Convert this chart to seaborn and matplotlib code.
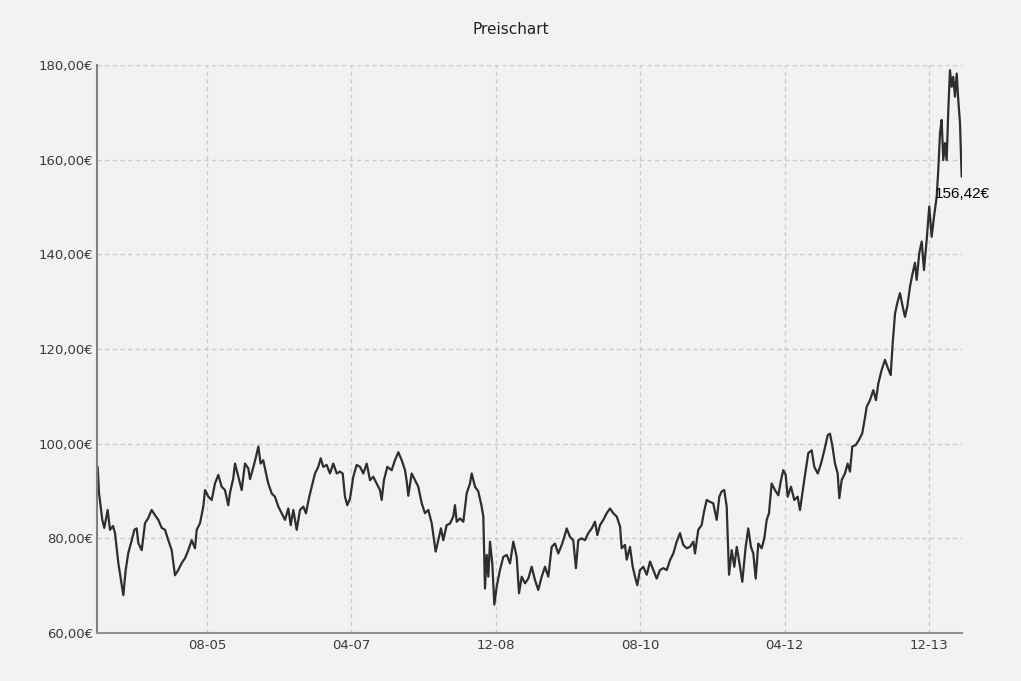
import numpy as np
import pandas as pd
import matplotlib
matplotlib.use("Agg")
import matplotlib.pyplot as plt
import seaborn as sns

# Time as decimal years, price in euro
years = [
    2004.321, 2004.336, 2004.374, 2004.397, 2004.436, 2004.463, 2004.498, 2004.521, 2004.559, 2004.590,
    2004.617, 2004.644, 2004.674, 2004.714, 2004.744, 2004.771, 2004.790, 2004.829, 2004.867, 2004.905,
    2004.944, 2004.982, 2005.021, 2005.060, 2005.098, 2005.136, 2005.175, 2005.213, 2005.251, 2005.291,
    2005.329, 2005.367, 2005.406, 2005.444, 2005.464, 2005.502, 2005.540, 2005.560, 2005.598, 2005.637,
    2005.675, 2005.713, 2005.752, 2005.790, 2005.828, 2005.848, 2005.886, 2005.906, 2005.944, 2005.983,
    2006.021, 2006.059, 2006.079, 2006.117, 2006.148, 2006.175, 2006.202, 2006.232, 2006.264, 2006.290,
    2006.329, 2006.367, 2006.406, 2006.445, 2006.483, 2006.521, 2006.549, 2006.579, 2006.618, 2006.656,
    2006.694, 2006.725, 2006.763, 2006.791, 2006.829, 2006.867, 2006.895, 2006.925, 2006.964, 2007.002,
    2007.040, 2007.080, 2007.118, 2007.149, 2007.175, 2007.202, 2007.233, 2007.271, 2007.310, 2007.349,
    2007.387, 2007.426, 2007.464, 2007.502, 2007.541, 2007.579, 2007.599, 2007.625, 2007.664, 2007.714,
    2007.752, 2007.791, 2007.830, 2007.868, 2007.888, 2007.906, 2007.945, 2007.983, 2008.021, 2008.061,
    2008.099, 2008.137, 2008.176, 2008.222, 2008.252, 2008.283, 2008.310, 2008.349, 2008.387, 2008.425,
    2008.445, 2008.465, 2008.503, 2008.541, 2008.580, 2008.618, 2008.638, 2008.676, 2008.714, 2008.753,
    2008.772, 2008.791, 2008.811, 2008.830, 2008.849, 2008.876, 2008.899, 2008.926, 2008.964, 2009.003,
    2009.042, 2009.080, 2009.118, 2009.157, 2009.184, 2009.215, 2009.253, 2009.291, 2009.330, 2009.368,
    2009.406, 2009.446, 2009.484, 2009.522, 2009.561, 2009.599, 2009.637, 2009.677, 2009.707, 2009.734,
    2009.772, 2009.810, 2009.841, 2009.868, 2009.907, 2009.945, 2009.984, 2010.023, 2010.061, 2010.088,
    2010.119, 2010.157, 2010.196, 2010.234, 2010.272, 2010.312, 2010.350, 2010.369, 2010.407, 2010.427,
    2010.465, 2010.496, 2010.523, 2010.549, 2010.580, 2010.619, 2010.658, 2010.696, 2010.734, 2010.773,
    2010.811, 2010.849, 2010.889, 2010.927, 2010.965, 2011.004, 2011.042, 2011.080, 2011.120, 2011.157,
    2011.196, 2011.215, 2011.253, 2011.292, 2011.319, 2011.350, 2011.388, 2011.426, 2011.466, 2011.496,
    2011.523, 2011.553, 2011.581, 2011.608, 2011.639, 2011.669, 2011.697, 2011.723, 2011.761, 2011.800,
    2011.830, 2011.861, 2011.888, 2011.916, 2011.946, 2011.985, 2012.015, 2012.043, 2012.069, 2012.100,
    2012.138, 2012.177, 2012.208, 2012.234, 2012.262, 2012.285, 2012.323, 2012.361, 2012.400, 2012.427,
    2012.454, 2012.485, 2012.523, 2012.562, 2012.592, 2012.632, 2012.670, 2012.708, 2012.747, 2012.773,
    2012.800, 2012.831, 2012.862, 2012.881, 2012.908, 2012.946, 2012.977, 2013.004, 2013.031, 2013.070,
    2013.108, 2013.146, 2013.177, 2013.197, 2013.235, 2013.273, 2013.304, 2013.331, 2013.370, 2013.408,
    2013.435, 2013.474, 2013.497, 2013.524, 2013.550, 2013.581, 2013.612, 2013.639, 2013.666, 2013.697,
    2013.728, 2013.754, 2013.774, 2013.804, 2013.832, 2013.858, 2013.889, 2013.919, 2013.947, 2013.974,
    2014.005, 2014.023, 2014.043, 2014.062, 2014.081, 2014.100, 2014.120, 2014.139, 2014.158, 2014.178,
    2014.196, 2014.216, 2014.236, 2014.254, 2014.274, 2014.293,
]
prices = [
    95.1, 89.6, 83.9, 82.2, 86.0, 81.8, 82.6, 81.1, 74.8, 71.2,
    68.0, 73.3, 76.9, 79.6, 81.8, 82.1, 79.0, 77.5, 83.2, 84.3,
    86.0, 84.9, 83.9, 82.2, 81.8, 79.6, 77.5, 72.2, 73.3, 74.8,
    75.8, 77.5, 79.6, 77.9, 81.8, 83.2, 86.7, 90.2, 88.8, 88.1,
    91.6, 93.4, 90.9, 90.2, 87.0, 89.6, 92.7, 95.8, 93.0, 90.2,
    95.8, 94.8, 92.5, 95.0, 97.2, 99.4, 95.8, 96.5, 93.7, 91.6,
    89.5, 88.8, 86.7, 85.3, 83.9, 86.3, 82.8, 86.0, 81.8, 86.0,
    86.7, 85.3, 88.8, 90.9, 93.7, 95.1, 96.9, 95.1, 95.5, 93.7,
    95.8, 93.7, 94.1, 93.7, 88.8, 87.0, 88.4, 93.0, 95.5, 95.1,
    93.7, 95.8, 92.3, 93.0, 91.6, 90.2, 88.1, 92.3, 95.1, 94.4,
    96.5, 98.2, 96.5, 94.4, 92.0, 89.0, 93.7, 92.3, 90.9, 87.4,
    85.3, 86.0, 83.2, 77.2, 79.6, 82.1, 79.6, 82.8, 83.1, 84.6,
    87.0, 83.5, 84.2, 83.5, 89.5, 91.6, 93.7, 90.9, 89.9, 86.7,
    84.6, 69.4, 76.5, 71.9, 79.3, 74.6, 66.0, 69.8, 73.3, 76.1,
    76.5, 74.7, 79.3, 76.1, 68.4, 71.9, 70.5, 71.5, 74.0, 71.2,
    69.1, 71.9, 74.0, 71.9, 78.2, 78.9, 76.8, 78.6, 80.3, 82.1,
    80.3, 79.6, 73.7, 79.6, 80.0, 79.6, 81.1, 82.1, 83.5, 80.7,
    82.8, 83.9, 85.3, 86.3, 85.3, 84.6, 82.5, 77.9, 78.6, 75.5,
    78.2, 74.0, 71.9, 70.1, 73.3, 74.0, 72.3, 75.1, 73.3, 71.5,
    73.3, 73.7, 73.3, 75.4, 76.8, 79.3, 81.1, 78.6, 77.9, 78.2,
    79.3, 76.8, 81.8, 82.8, 85.6, 88.1, 87.7, 87.4, 83.9, 88.8,
    89.9, 90.2, 86.7, 72.3, 77.5, 74.0, 78.2, 75.4, 70.8, 78.2,
    82.1, 78.2, 76.8, 71.5, 78.9, 77.9, 80.0, 83.9, 85.3, 91.6,
    90.2, 89.1, 92.3, 94.4, 93.4, 88.8, 90.9, 88.1, 88.8, 86.0,
    89.5, 93.4, 98.0, 98.6, 95.1, 93.7, 95.8, 98.6, 101.8, 102.1,
    99.6, 95.8, 93.7, 88.5, 92.3, 93.7, 95.8, 94.1, 99.4, 99.7,
    100.8, 102.2, 105.5, 107.8, 109.2, 111.3, 109.2, 112.7, 115.6, 117.7,
    116.3, 114.5, 121.2, 127.5, 129.7, 131.8, 129.0, 126.8, 129.0, 133.2,
    136.1, 138.2, 134.6, 140.3, 142.7, 136.7, 143.0, 150.1, 143.7, 148.0,
    152.2, 157.8, 165.6, 168.4, 159.9, 163.5, 159.9, 170.5, 178.9, 175.4,
    177.5, 173.3, 178.2, 172.6, 167.7, 156.42,
]

# axis ticks
x_ticks = [2005 + 7 / 12, 2007 + 3 / 12, 2008 + 11 / 12, 2010 + 7 / 12, 2012 + 3 / 12, 2013 + 11 / 12]
x_labels = ["08-05", "04-07", "12-08", "08-10", "04-12", "12-13"]
y_ticks = [60, 80, 100, 120, 140, 160, 180]
y_labels = ["60,00€", "80,00€", "100,00€", "120,00€", "140,00€", "160,00€", "180,00€"]

df = pd.DataFrame({"year": years, "price": prices})

bg = "#f2f2f2"
sns.set_style("white", {"axes.facecolor": bg, "figure.facecolor": bg})
plt.rcParams["font.family"] = ["DejaVu Sans"]

fig = plt.figure(figsize=(10.21, 6.81), dpi=100)
ax = fig.add_axes([97 / 1021, 1 - 633 / 681, (962 - 97) / 1021, (633 - 65) / 681])

sns.lineplot(data=df, x="year", y="price", ax=ax, color="#2e2e2e", linewidth=1.6)

ax.set_xlim(2004.313, 2014.297)
ax.set_ylim(60, 180)
ax.set_xticks(x_ticks)
ax.set_xticklabels(x_labels)
ax.set_yticks(y_ticks)
ax.set_yticklabels(y_labels)
ax.set_xlabel("")
ax.set_ylabel("")
ax.tick_params(axis="both", length=0, labelsize=9.5, labelcolor="#3a3a3a")
ax.tick_params(axis="x", pad=4)
ax.tick_params(axis="y", pad=3)

ax.grid(True, color="#cbcbcb", linestyle=(0, (3, 2.5)), linewidth=1)
ax.set_axisbelow(True)

for s in ["top", "right"]:
    ax.spines[s].set_visible(False)
ax.spines["left"].set_color("#808080")
ax.spines["left"].set_linewidth(1.5)
ax.spines["bottom"].set_color("#909090")
ax.spines["bottom"].set_linewidth(1.5)

fig.text(0.5, 1 - 30 / 681, "Preischart", ha="center", va="center", fontsize=11, color="#222222")

# label of the last price
ax.annotate("156,42€", xy=(years[-1], prices[-1]), xytext=(-27, -17),
            textcoords="offset pixels", ha="left", va="center",
            fontsize=11, color="black", family="Liberation Sans")

fig.savefig("out.png", dpi=100, facecolor=bg)
